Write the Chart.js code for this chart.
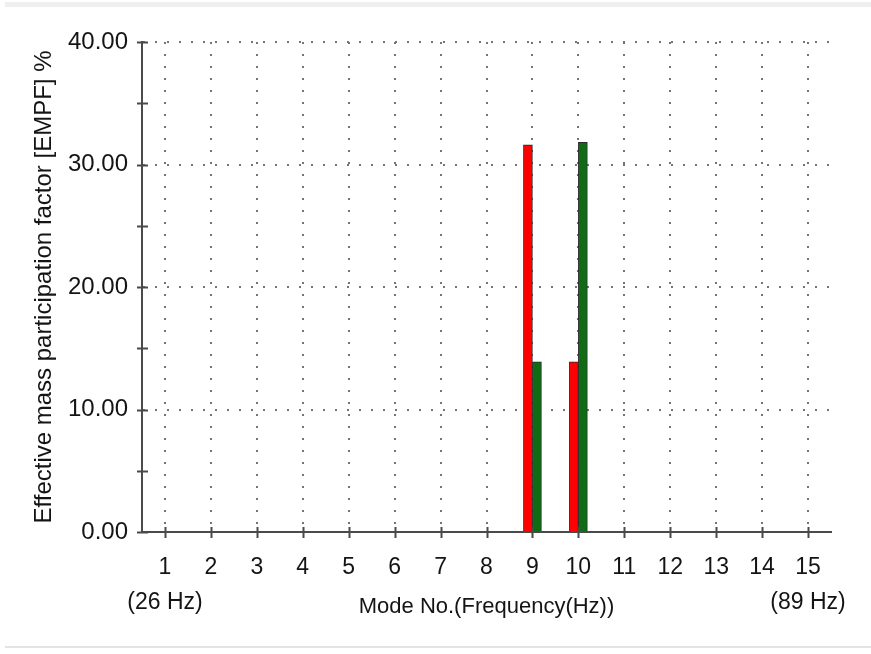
<!DOCTYPE html>
<html>
<head>
<meta charset="utf-8">
<title>Effective mass participation factor</title>
<script src="https://cdn.jsdelivr.net/npm/chart.js@4/dist/chart.umd.min.js"></script>
<style>
  html, body { margin: 0; padding: 0; background: #ffffff; }
  #wrap { position: relative; width: 871px; height: 654px; overflow: hidden; }
  #chart { position: absolute; left: 0; top: 0; }
  .band-top { position: absolute; left: 5px; right: 0; top: 2px; height: 5px; background: #efefef; }
  .rule-bottom { position: absolute; left: 5px; right: 0; top: 646px; height: 2px; background: #e4e4e4; }
</style>
</head>
<body>
<div id="wrap">
  <div class="band-top"></div>
  <canvas id="chart" width="871" height="654"></canvas>
  <div class="rule-bottom"></div>
</div>
<script>
// Mode numbers along the x axis, with the frequency range noted under the first and last mode
const modeNumbers = ['1', '2', '3', '4', '5', '6', '7', '8', '9', '10', '11', '12', '13', '14', '15'];
const frequencyNotes = ['(26 Hz)', '', '', '', '', '', '', '', '', '', '', '', '', '', '(89 Hz)'];

// Effective mass participation factor (%) per mode
const empfX = [0, 0, 0, 0, 0, 0, 0, 0, 31.6, 13.9, 0, 0, 0, 0, 0];
const empfY = [0, 0, 0, 0, 0, 0, 0, 0, 13.9, 31.8, 0, 0, 0, 0, 0];

// Value axis range and tick spacing
const yMin = 0;
const yMax = 40;
const yTickStep = 5;
const yLabelStep = 10;

const categoryLabels = modeNumbers.map((m, i) => frequencyNotes[i] ? [m, frequencyNotes[i]] : m);

const textColor = '#141414';
const axisColor = '#4a4a4a';
const dotColor = '#747474';
const fontFamily = '"Liberation Sans", Arial, sans-serif';

// Short tick marks that cross both axis lines
const crossTicks = {
  id: 'crossTicks',
  afterDraw(chart) {
    const { ctx, scales: { x, y } } = chart;
    ctx.save();
    ctx.strokeStyle = axisColor;
    ctx.lineWidth = 2;
    ctx.beginPath();
    y.ticks.forEach(t => {
      const py = Math.round(y.getPixelForValue(t.value)) + 0.5;
      ctx.moveTo(y.right - 5, py);
      ctx.lineTo(y.right + 6, py);
    });
    x.ticks.forEach((t, i) => {
      const px = Math.round(x.getPixelForTick(i)) + 0.5;
      ctx.moveTo(px, x.top - 5);
      ctx.lineTo(px, x.top + 6);
    });
    ctx.stroke();
    ctx.restore();
  }
};

new Chart(document.getElementById('chart'), {
  type: 'bar',
  data: {
    labels: categoryLabels,
    datasets: [
      {
        label: 'X direction',
        data: empfX,
        backgroundColor: '#ff0000',
        borderColor: '#2a2a2a',
        borderWidth: 1,
        barThickness: 9
      },
      {
        label: 'Y direction',
        data: empfY,
        backgroundColor: '#0f6b14',
        borderColor: '#2a2a2a',
        borderWidth: 1,
        barThickness: 9
      }
    ]
  },
  options: {
    responsive: false,
    animation: false,
    events: [],
    layout: { padding: { top: 42, right: 40, left: 0, bottom: 0 } },
    plugins: {
      legend: { display: false },
      tooltip: { enabled: false }
    },
    scales: {
      x: {
        offset: true,
        afterFit(scale) { scale.height = 122; },
        grid: {
          offset: false,
          drawTicks: false,
          color: dotColor,
          lineWidth: 2
        },
        border: { display: true, color: axisColor, width: 2, dash: [2, 10] },
        ticks: {
          autoSkip: false,
          maxRotation: 0,
          padding: 18,
          color: textColor,
          font: { family: fontFamily, size: 23, lineHeight: 1.52 }
        },
        title: {
          display: true,
          text: 'Mode No.(Frequency(Hz))',
          color: textColor,
          font: { family: fontFamily, size: 22, lineHeight: 1.2 },
          padding: { top: 0, bottom: 34 }
        }
      },
      y: {
        min: yMin,
        max: yMax,
        afterFit(scale) { scale.width = 142; },
        grid: {
          drawTicks: false,
          lineWidth: 2,
          color: ctx => (ctx.tick && ctx.tick.value > 0 && ctx.tick.value % yLabelStep === 0) ? dotColor : 'rgba(0,0,0,0)'
        },
        border: { display: true, color: axisColor, width: 2, dash: [2, 10] },
        ticks: {
          stepSize: yTickStep,
          padding: 14,
          color: textColor,
          font: { family: fontFamily, size: 24 },
          callback: v => (v % yLabelStep === 0 ? Number(v).toFixed(2) : '')
        },
        title: {
          display: true,
          text: 'Effective mass participation factor [EMPF] %',
          color: textColor,
          font: { family: fontFamily, size: 24, lineHeight: 1.2 },
          padding: { top: 30, bottom: 0 }
        }
      }
    }
  },
  plugins: [crossTicks]
});
</script>
</body>
</html>
